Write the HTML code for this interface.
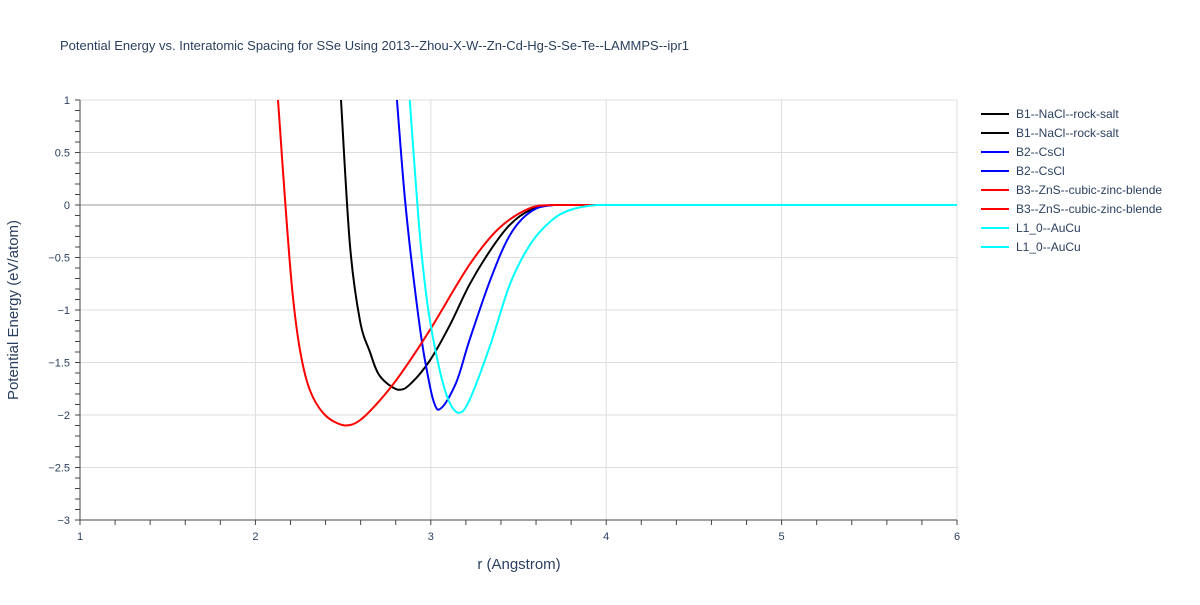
<!DOCTYPE html>
<html><head><meta charset="utf-8"><style>
body{margin:0;background:#fff;font-family:"Liberation Sans",sans-serif;}
</style></head><body>
<svg id="chart" width="1200" height="600" xmlns="http://www.w3.org/2000/svg">
<text x="60" y="50" font-size="13" fill="#2a3f5f">Potential Energy vs. Interatomic Spacing for SSe Using 2013--Zhou-X-W--Zn-Cd-Hg-S-Se-Te--LAMMPS--ipr1</text>
<g id="grid"></g><g id="axes"></g><g id="series"></g><g id="legend"></g>
<text x="519" y="569" font-size="15" fill="#2a3f5f" text-anchor="middle">r (Angstrom)</text>
<text x="18" y="310" font-size="15" fill="#2a3f5f" text-anchor="middle" transform="rotate(-90 18 310)">Potential Energy (eV/atom)</text>
</svg>
<script>
const xTicks=[1,2,3,4,5,6];
const yTicks=[1,0.5,0,-0.5,-1,-1.5,-2,-2.5,-3];
const yTickLabels=["1","0.5","0","−0.5","−1","−1.5","−2","−2.5","−3"];
const b1R=[2.488,2.539,2.596,2.653,2.71,2.813,2.88,2.995,3.11,3.22,3.34,3.45,3.565,3.7,4,6];
const b1E=[1,-0.38,-1.1,-1.40,-1.63,-1.76,-1.71,-1.48,-1.14,-0.76,-0.43,-0.19,-0.05,0,0,0];
const b2R=[2.807,2.853,2.91,2.967,3.04,3.14,3.22,3.34,3.45,3.565,3.7,4,6];
const b2E=[1,0.05,-0.81,-1.48,-1.95,-1.71,-1.29,-0.71,-0.29,-0.07,0,0,0];
const b3R=[2.129,2.169,2.21,2.254,2.31,2.397,2.51,2.596,2.71,2.824,2.995,3.22,3.39,3.565,3.7,4,6];
const b3E=[1,0.05,-0.81,-1.38,-1.76,-2.0,-2.1,-2.05,-1.86,-1.62,-1.19,-0.57,-0.22,-0.03,0,0,0];
const l1R=[2.88,2.94,2.995,3.08,3.155,3.22,3.34,3.45,3.565,3.68,3.79,3.95,4.2,6];
const l1E=[1,-0.33,-1.1,-1.76,-1.98,-1.86,-1.33,-0.76,-0.38,-0.16,-0.05,0,0,0];
const seriesNames=["B1--NaCl--rock-salt","B2--CsCl","B3--ZnS--cubic-zinc-blende","L1_0--AuCu"];
const X=r=>80+(r-1)*175.4;
const Y=e=>205-e*105;
const NS="http://www.w3.org/2000/svg";
function mk(tag,attrs,parent){const el=document.createElementNS(NS,tag);for(const k in attrs)el.setAttribute(k,attrs[k]);parent.appendChild(el);return el;}
const grid=document.getElementById('grid'),axes=document.getElementById('axes');
xTicks.forEach(t=>{
 const l=mk('line',{x1:X(t),x2:X(t),y1:100,y2:520,stroke:'#ddd'},grid);
 
 
 const tx=mk('text',{x:X(t),y:540,'font-size':11,fill:'#2a3f5f','text-anchor':'middle'},axes);
 tx.textContent=t;
 
 
});
yTicks.forEach((t,i)=>{
 const l=mk('line',{x1:80,x2:957,y1:Y(t),y2:Y(t),stroke:t===0?'#ccc':'#ddd','stroke-width':t===0?2:1},grid);
 
 
 const tx=mk('text',{x:70,y:Y(t)+4,'font-size':11,fill:'#2a3f5f','text-anchor':'end'},axes);
 tx.textContent=yTickLabels[i];
 
 
});
for(let v=-3;v<=1.001;v+=0.1){mk('line',{x1:75,x2:80,y1:Y(v),y2:Y(v),stroke:'#444'},axes);}
for(let v=1;v<=6.001;v+=0.2){mk('line',{x1:X(v),x2:X(v),y1:520,y2:525,stroke:'#444'},axes);}
const ax1=mk('line',{x1:80,x2:80,y1:100,y2:520,stroke:'#444'},axes);


const ax2=mk('line',{x1:80,x2:957,y1:520,y2:520,stroke:'#444'},axes);


function path(R,E){
 const p=R.map((r,i)=>[X(r),Y(E[i])]);
 let d='M'+p[0][0]+','+p[0][1];
 const cl=(v,a,b)=>Math.max(Math.min(a,b),Math.min(Math.max(a,b),v));
 for(let i=0;i<p.length-1;i++){
  const p0=p[i-1]||p[i],p1=p[i],p2=p[i+1],p3=p[i+2]||p2;
  const c1=[p1[0]+(p2[0]-p0[0])/6,cl(p1[1]+(p2[1]-p0[1])/6,p1[1],p2[1])];
  const c2=[p2[0]-(p3[0]-p1[0])/6,cl(p2[1]-(p3[1]-p1[1])/6,p1[1],p2[1])];
  d+=`C${c1[0]},${c1[1]} ${c2[0]},${c2[1]} ${p2[0]},${p2[1]}`;
 }
 return d;
}
const ser=document.getElementById('series');
const defs=[[b1R,b1E,'#000','series-b1-nacl'],[b2R,b2E,'#0000ff','series-b2-cscl'],[b3R,b3E,'#ff0000','series-b3-zns'],[l1R,l1E,'#00ffff','series-l1-0-aucu']];
defs.forEach(d=>{
 const el=mk('path',{d:path(d[0],d[1]),fill:'none',stroke:d[2],'stroke-width':2},ser);
 
 
});
const leg=document.getElementById('legend');
defs.forEach((d,i)=>{for(let k=0;k<2;k++){
 const y=114+(i*2+k)*19;
 const g=mk('g',{},leg);
 
 
 mk('line',{x1:981,x2:1009,y1:y,y2:y,stroke:d[2],'stroke-width':2},g);
 const t=mk('text',{x:1016,y:y+4,'font-size':12,fill:'#2a3f5f'},g);
 t.textContent=seriesNames[i];
}});
</script>
</body></html>
